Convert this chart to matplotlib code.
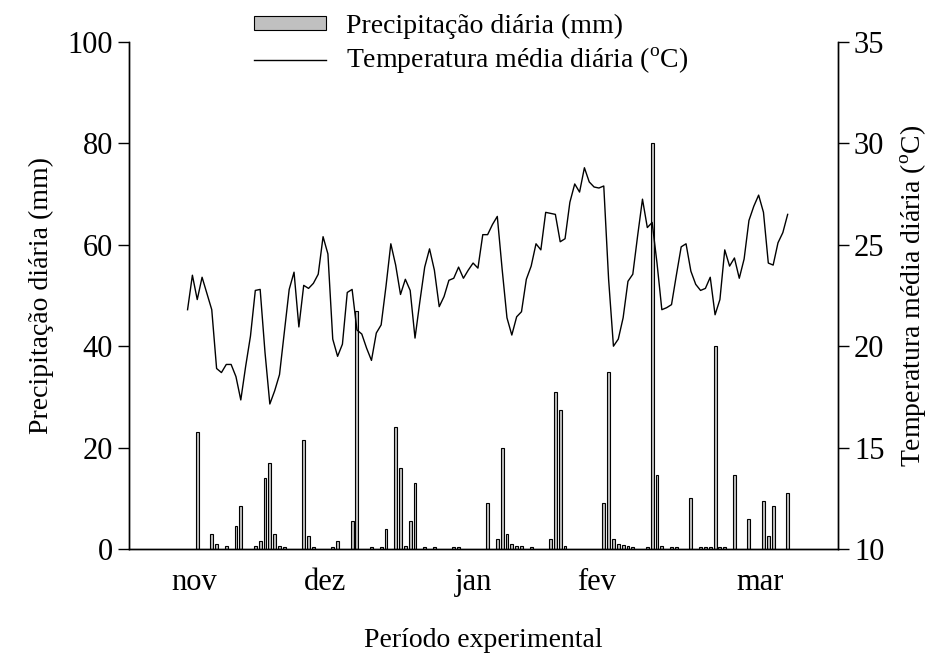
import numpy as np
import matplotlib
matplotlib.use('Agg')
import matplotlib.pyplot as plt
from matplotlib.patches import Patch
from matplotlib.lines import Line2D

# daily mean temperature (oC), one value per day from day 0
temp = [21.8, 23.5, 22.3, 23.4, 22.6, 21.8, 18.9, 18.7, 19.1, 19.1,
        18.5, 17.35, 19.0, 20.5, 22.75, 22.8, 19.7, 17.15, 17.8, 18.6,
        20.7, 22.8, 23.65, 20.95, 23.0, 22.85, 23.1, 23.55, 25.4, 24.55,
        20.35, 19.5, 20.1, 22.65, 22.8, 20.8, 20.6, 19.9, 19.3, 20.65,
        21.05, 22.95, 25.05, 24.0, 22.55, 23.3, 22.75, 20.4, 22.2, 23.9,
        24.8, 23.75, 21.95, 22.45, 23.25, 23.35, 23.9, 23.35, 23.75, 24.1,
        23.85, 25.5, 25.5, 26.0, 26.4, 23.8, 21.4, 20.55, 21.45, 21.7,
        23.3, 23.95, 25.05, 24.75, 26.6, 26.55, 26.5, 25.15, 25.3, 27.1,
        28.0, 27.6, 28.8, 28.1, 27.85, 27.8, 27.9, 23.3, 20.0, 20.35,
        21.4, 23.2, 23.55, 25.45, 27.25, 25.85, 26.1, 24.1, 21.8, 21.9,
        22.05, 23.5, 24.9, 25.05, 23.7, 23.05, 22.75, 22.85, 23.4, 21.55,
        22.3, 24.75, 23.95, 24.35, 23.35, 24.3, 26.2, 26.9, 27.45, 26.6,
        24.1, 24.0, 25.1, 25.6, 26.5]

# daily rainfall (mm), only the days with rain
rain_day = [2, 5, 6, 8, 10, 11, 14, 15, 16, 17, 18, 19, 20, 24, 25, 26, 30, 31,
            34, 35, 38, 40, 41, 43, 44, 45, 46, 47, 49, 51, 55, 56, 62, 64, 65,
            66, 67, 68, 69, 71, 75, 76, 77, 78, 86, 87, 88, 89, 90, 91, 92, 95,
            96, 97, 98, 100, 101, 104, 106, 107, 108, 109, 110, 111, 113, 116,
            119, 120, 121, 124]
rain_mm = [23, 3, 1, 0.5, 4.5, 8.5, 0.5, 1.5, 14, 17, 3, 0.5, 0.3, 21.5, 2.5, 0.3,
           0.3, 1.5, 5.5, 47, 0.3, 0.3, 4, 24, 16, 0.5, 5.5, 13, 0.3, 0.3, 0.3,
           0.3, 9, 2, 20, 3, 1, 0.5, 0.5, 0.3, 2, 31, 27.5, 0.5, 9, 35, 2, 1,
           0.8, 0.5, 0.3, 0.3, 80, 14.5, 0.5, 0.3, 0.3, 10, 0.3, 0.3, 0.3, 40,
           0.3, 0.3, 14.5, 6, 9.5, 2.5, 8.5, 11]

month_pos = [1.3, 28.4, 59.0, 84.6, 118.3]
month_lab = ['nov', 'dez', 'jan', 'fev', 'mar']

plt.rcParams['font.family'] = ['Liberation Serif', 'DejaVu Serif']
plt.rcParams['mathtext.fontset'] = 'custom'
plt.rcParams['mathtext.rm'] = 'Liberation Serif'
fs = 20
fs_tick = 22

W, H = 948, 661
fig = plt.figure(figsize=(W/100, H/100), dpi=100)
ax = fig.add_axes([129/W, 1 - 549/H, (838 - 129)/W, (549 - 42)/H])

ax.bar(rain_day, rain_mm, width=0.6, color='#c0c0c0', edgecolor='black', linewidth=0.8)
ax.set_xlim(-12.1, 134.4)
ax.set_ylim(0, 100)
ax.set_yticks(np.arange(0, 101, 20))
ax.set_xticks(month_pos)
ax.set_xticklabels(month_lab)
ax.tick_params(axis='x', length=0, pad=14, labelsize=fs_tick)
ax.tick_params(axis='y', direction='out', length=8, width=1, labelsize=fs_tick)
ax.set_ylabel('Precipitação diária (mm)', fontsize=fs, labelpad=10)
ax.set_xlabel('Período experimental', fontsize=fs, labelpad=22)

ax2 = ax.twinx()
days = np.arange(len(temp))
ax2.plot(days, temp, color='black', lw=1.0)
ax2.set_ylim(10, 35)
ax2.set_yticks(np.arange(10, 36, 5))
ax2.tick_params(axis='y', direction='out', length=8, width=1, labelsize=fs_tick)
ax2.set_ylabel('Temperatura média diária ($^{\\mathrm{o}}$C)', fontsize=fs, labelpad=10)

for a in (ax, ax2):
    a.spines['top'].set_visible(False)
    for s in ('left', 'right', 'bottom'):
        a.spines[s].set_linewidth(1.0)

handles = [Patch(facecolor='#c0c0c0', edgecolor='black', linewidth=0.8),
           Line2D([], [], color='black', lw=1.0)]
labels = ['Precipitação diária (mm)', 'Temperatura média diária ($^{\\mathrm{o}}$C)']
fig.legend(handles, labels, loc='upper left', bbox_to_anchor=(240/W, 1.0),
           frameon=False, fontsize=fs, handlelength=2.6, handleheight=0.4,
           handletextpad=0.7, labelspacing=0.25, borderaxespad=0.1)

fig.savefig('out.png', dpi=100)
